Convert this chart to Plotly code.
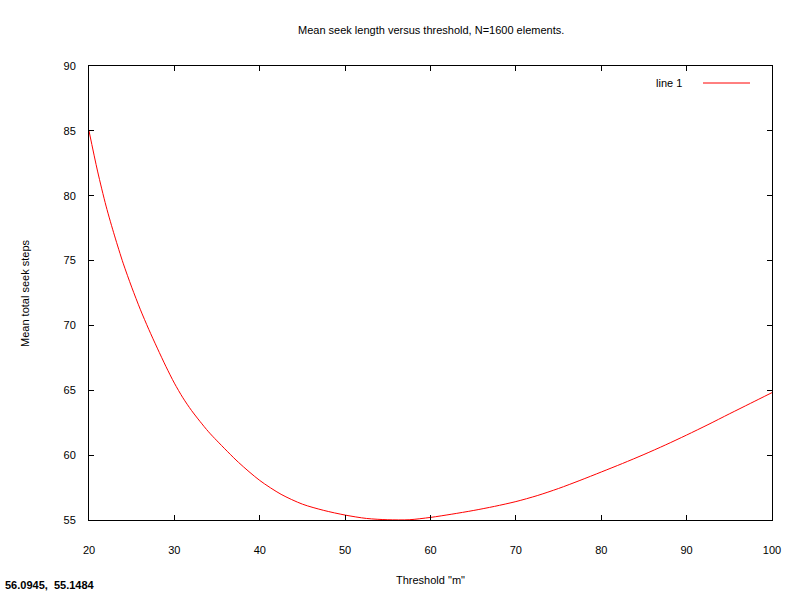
import plotly.graph_objects as go

threshold = [20, 21, 22, 23, 24, 25, 26, 27, 28, 29, 30, 31, 32, 33, 34, 35, 37.5, 40,
             42.5, 45, 47.5, 50, 52.5, 55, 57.5, 60, 62.5, 65, 67.5, 70, 72.5, 75, 77.5,
             80, 82.5, 85, 87.5, 90, 92.5, 95, 97.5, 100]
seek_steps = [85.0, 81.9, 79.2, 76.9, 74.8, 72.95, 71.25, 69.7, 68.25, 66.85, 65.55, 64.42,
              63.45, 62.6, 61.8, 61.1, 59.45, 58.05, 56.98, 56.22, 55.74, 55.38, 55.12,
              55.02, 55.02, 55.2, 55.45, 55.73, 56.05, 56.42, 56.88, 57.43, 58.05, 58.70,
              59.36, 60.05, 60.78, 61.55, 62.35, 63.18, 64.0, 64.82]
x_ticks = [20, 30, 40, 50, 60, 70, 80, 90, 100]
y_ticks = [55, 60, 65, 70, 75, 80, 85, 90]

FONT = "Liberation Sans, Arial, sans-serif"

fig = go.Figure()
fig.add_trace(go.Scatter(x=threshold, y=seek_steps, mode="lines", name="line 1",
                         line=dict(color="#ff0000", width=1, shape="spline", smoothing=0.8),
                         showlegend=False))

fig.update_layout(
    width=800, height=592,
    margin=dict(l=89, r=28, t=66, b=72),
    paper_bgcolor="white", plot_bgcolor="white",
    font=dict(family=FONT, size=11, color="black"),
    xaxis=dict(range=[20, 100], tickvals=x_ticks, ticks="inside", ticklen=5,
               tickcolor="black", showline=True, linecolor="black", linewidth=1,
               mirror="ticks", showgrid=False, zeroline=False, ticklabelstandoff=20),
    yaxis=dict(range=[55, 90], tickvals=y_ticks, ticks="inside", ticklen=5,
               tickcolor="black", showline=True, linecolor="black", linewidth=1,
               mirror="ticks", showgrid=False, zeroline=False, ticklabelstandoff=10),
    annotations=[
        dict(text="Mean seek length versus threshold, N=1600 elements.", xref="paper", yref="paper",
             x=0.5, y=1, yshift=36, showarrow=False, xanchor="center", yanchor="middle",
             font=dict(size=11)),
        dict(text='Threshold "m"', xref="paper", yref="paper", x=0.5, y=0, yshift=-60,
             showarrow=False, xanchor="center", yanchor="middle", font=dict(size=11)),
        dict(text="Mean total seek steps", xref="paper", yref="paper", x=0, y=0.5,
             xshift=-64, showarrow=False, textangle=-90, xanchor="center", yanchor="middle",
             font=dict(size=11)),
        dict(text="line 1", xref="paper", yref="paper", x=(684 - 89) / 683, y=1, yshift=-17,
             showarrow=False, xanchor="right", yanchor="middle", font=dict(size=11)),
        dict(text="<b>56.0945,  55.1484</b>", xref="paper", yref="paper", x=0, y=0,
             xshift=-86, yshift=-65, showarrow=False, xanchor="left", yanchor="middle",
             font=dict(size=11)),
    ],
    shapes=[
        dict(type="line", xref="paper", yref="paper", x0=(703 - 89) / 683, x1=(750 - 89) / 683,
             y0=(520 - 83) / 454, y1=(520 - 83) / 454, line=dict(color="#ff0000", width=1)),
    ],
)

fig.write_html("out.html", config={"displayModeBar": False},
               post_script="document.body.style.margin='0';")
